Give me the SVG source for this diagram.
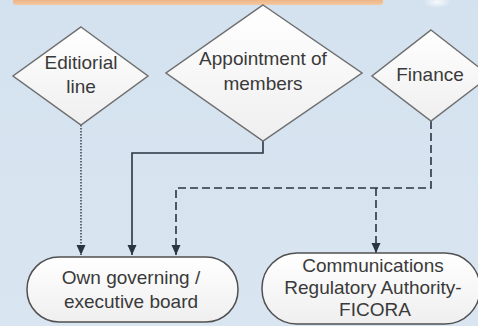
<svg xmlns="http://www.w3.org/2000/svg" width="478" height="326" viewBox="0 0 478 326">
  <defs>
    <linearGradient id="bg" x1="0" y1="0" x2="0" y2="1">
      <stop offset="0" stop-color="#d4e2ef"/>
      <stop offset="1" stop-color="#d9e5f1"/>
    </linearGradient>
    <linearGradient id="nodeFill" x1="0" y1="0" x2="0" y2="1">
      <stop offset="0" stop-color="#ffffff"/>
      <stop offset="1" stop-color="#efefef"/>
    </linearGradient>
    <linearGradient id="bar" x1="0" y1="0" x2="0" y2="1">
      <stop offset="0" stop-color="#efb586"/>
      <stop offset="1" stop-color="#f3c8a2"/>
    </linearGradient>
    <radialGradient id="glow" cx="0.5" cy="0.5" r="0.5">
      <stop offset="0" stop-color="#ffffff" stop-opacity="0.8"/>
      <stop offset="1" stop-color="#ffffff" stop-opacity="0"/>
    </radialGradient>
    <marker id="arrow" markerUnits="userSpaceOnUse" markerWidth="10" markerHeight="10" viewBox="0 0 10 10" refX="10" refY="5" orient="auto">
      <path d="M0,0.5 L10,5 L0,9.5 Z" fill="#2a3542"/>
    </marker>
  </defs>
  <style>
    .node { fill: url(#nodeFill); stroke: #6f6f6f; stroke-width: 1.5; }
    .term { fill: url(#nodeFill); stroke: #505050; stroke-width: 1.5; }
    .label { font-family: "Liberation Sans", Arial, sans-serif; font-size: 19px; fill: #3a3a3a; text-anchor: middle; }
    .conn { fill: none; stroke: #2a3542; stroke-width: 1.6; }
    .solid { }
    .dashed { stroke-dasharray: 8 4; }
    .dotted { stroke-dasharray: 1.5 1.5; stroke-width: 1.4; }
  </style>

  <rect x="0" y="0" width="478" height="326" fill="url(#bg)"/>
  <path d="M13,0 H383 V2 Q383,5 380,5 H16 Q13,5 13,2 Z" fill="url(#bar)"/>
  <ellipse cx="437" cy="2" rx="14" ry="6" fill="url(#glow)"/>

  <g id="connectors">
    <path class="conn dotted" d="M81,125 V255" marker-end="url(#arrow)"/>
    <path class="conn solid" d="M263,141 V153 H132 V255" marker-end="url(#arrow)"/>
    <path class="conn dashed" d="M431,121 V188 H176 V255" marker-end="url(#arrow)"/>
    <path class="conn dashed" d="M376,188 V253" marker-end="url(#arrow)"/>
  </g>

  <g id="editorial-line">
    <polygon class="node" points="81,27 148,76 81,125 13,76"/>
    <text class="label" x="81" y="69">Editiorial</text>
    <text class="label" x="81" y="93">line</text>
  </g>

  <g id="appointment">
    <polygon class="node" points="263,5 362,73 263,141 166,73"/>
    <text class="label" x="263" y="65">Appointment of</text>
    <text class="label" x="263" y="90">members</text>
  </g>

  <g id="finance">
    <polygon class="node" points="431,30 490,76 431,121 372,76"/>
    <text class="label" x="430" y="81">Finance</text>
  </g>

  <g id="own-board">
    <rect class="term" x="27" y="257" width="211" height="65" rx="32" ry="32"/>
    <text class="label" x="131" y="284">Own governing /</text>
    <text class="label" x="131" y="308">executive board</text>
  </g>

  <g id="ficora">
    <rect class="term" x="262" y="253" width="218" height="71" rx="35" ry="35"/>
    <text class="label" x="373" y="272">Communications</text>
    <text class="label" x="373" y="294">Regulatory Authority-</text>
    <text class="label" x="375" y="316">FICORA</text>
  </g>
</svg>
